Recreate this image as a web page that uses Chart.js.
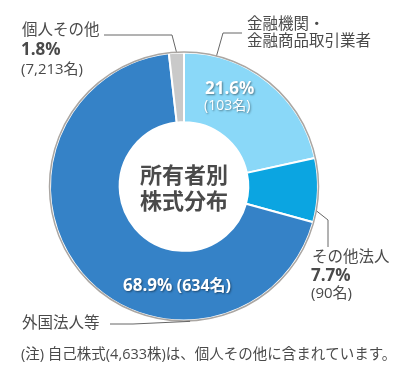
<!DOCTYPE html>
<html><head><meta charset="utf-8">
<script src="https://cdn.jsdelivr.net/npm/chart.js@4.4.0/dist/chart.umd.min.js"></script>
<style>html,body{margin:0;padding:0;background:#fff}#w{width:400px;height:389px}</style>
</head><body><div id="w"><canvas id="c" width="400" height="389"></canvas></div>
<script>
const categories = ["金融機関・金融商品取引業者", "その他法人", "外国法人等", "個人その他"];
const percents = [21.6, 7.7, 68.9, 1.8];
const counts = ["103名", "90名", "634名", "7,213名"];
const colors = ["#8ad8f8", "#0ba5e1", "#3582c7", "#c9c9c9"];
const centerTitle = ["所有者別", "株式分布"];
const footnote = "(注) 自己株式(4,633株)は、個人その他に含まれています。";

const JP = '"Open Sans", "Noto Sans CJK JP", sans-serif';
const TXT = '#4a4a4a';

const overlay = {
  id: 'overlay',
  afterDatasetsDraw(chart) {
    const ctx = chart.ctx;
    const arc0 = chart.getDatasetMeta(0).data[0];
    const cx = arc0.x, cy = arc0.y, R = arc0.outerRadius;
    const arcs = chart.getDatasetMeta(0).data;
    ctx.save();
    ctx.beginPath();
    ctx.arc(cx, cy, R + 0.5, 0, Math.PI * 2);
    ctx.strokeStyle = '#aaa6a2';
    ctx.lineWidth = 1.5;
    ctx.stroke();

    function rim(i, f) {
      const a = arcs[i];
      const ang = a.startAngle + (a.endAngle - a.startAngle) * f;
      return [cx + (R + 1) * Math.cos(ang), cy + (R + 1) * Math.sin(ang)];
    }
    ctx.strokeStyle = '#666';
    ctx.lineWidth = 1;
    function poly(pts) {
      ctx.beginPath();
      ctx.moveTo(pts[0][0], pts[0][1]);
      for (let k = 1; k < pts.length; k++) ctx.lineTo(pts[k][0], pts[k][1]);
      ctx.stroke();
    }
    poly([rim(0, 0.18), [223, 33], [242, 33]]);
    poly([rim(3, 0.5), [172, 35], [104, 35]]);
    poly([rim(1, 0.82), [328, 220], [328, 247]]);
    poly([rim(2, 0.29), [133, 324], [110, 324]]);

    ctx.textBaseline = 'middle';
    ctx.fillStyle = TXT;
    ctx.textAlign = 'left';
    ctx.font = '15.5px ' + JP;
    ctx.fillText("金融機関・", 247, 25);
    ctx.fillText("金融商品取引業者", 247, 42);
    ctx.fillText("個人その他", 22, 31);
    ctx.font = 'bold 17px ' + JP;
    ctx.fillText(percents[3].toFixed(1) + "%", 21, 50);
    ctx.font = '15px ' + JP;
    ctx.fillText("(" + counts[3] + ")", 21, 70);
    ctx.font = '15.5px ' + JP;
    ctx.fillText("その他法人", 312, 258);
    ctx.font = 'bold 17px ' + JP;
    ctx.fillText(percents[1].toFixed(1) + "%", 311, 276);
    ctx.font = '15px ' + JP;
    ctx.fillText("(" + counts[1] + ")", 311, 294);
    ctx.font = '15.5px ' + JP;
    ctx.fillText("外国法人等", 22, 324);
    ctx.font = '14.5px ' + JP;
    ctx.fillText(footnote, 21, 355);

    ctx.textAlign = 'center';
    ctx.font = 'bold 22px ' + JP;
    ctx.fillStyle = '#4a4a4a';
    ctx.fillText(centerTitle[0], cx, cy - 10);
    ctx.fillText(centerTitle[1], cx, cy + 16);

    ctx.shadowColor = 'rgba(0,0,0,0.45)';
    ctx.shadowBlur = 2;
    ctx.shadowOffsetX = 1;
    ctx.shadowOffsetY = 1;
    ctx.fillStyle = '#fff';
    ctx.textAlign = 'left';
    ctx.font = 'bold 17px ' + JP;
    ctx.fillText(percents[0].toFixed(1) + "%", 205, 89);
    ctx.font = '14px ' + JP;
    ctx.fillText("(" + counts[0] + ")", 204, 106);
    ctx.font = 'bold 17px ' + JP;
    const p2 = percents[2].toFixed(1) + "% ";
    ctx.fillText(p2, 123, 286);
    const w2 = ctx.measureText(p2).width;
    ctx.font = 'bold 16px ' + JP;
    ctx.fillText("(" + counts[2] + ")", 123 + w2, 286);
    ctx.restore();
  }
};

new Chart(document.getElementById('c'), {
  type: 'doughnut',
  data: {
    labels: categories,
    datasets: [{
      data: percents,
      backgroundColor: colors,
      borderColor: '#ffffff',
      borderWidth: 2,
      borderAlign: 'center'
    }]
  },
  options: {
    responsive: false,
    animation: false,
    cutout: '48%',
    rotation: 0,
    layout: { padding: { left: 49, right: 81, top: 51, bottom: 67 } },
    plugins: { legend: { display: false }, tooltip: { enabled: false } }
  },
  plugins: [overlay]
});
</script>
</body></html>
